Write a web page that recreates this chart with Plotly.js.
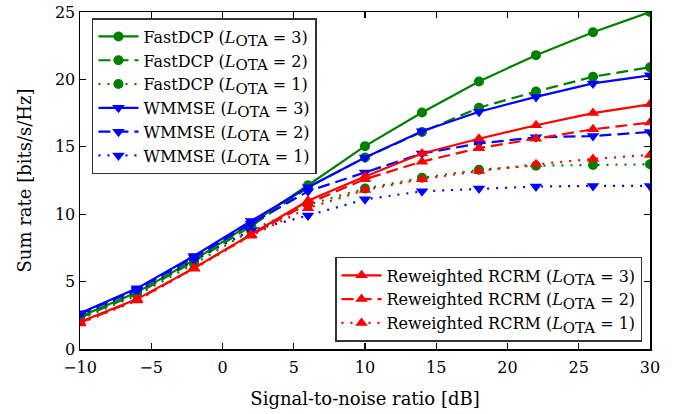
<!DOCTYPE html>
<html>
<head>
<meta charset="utf-8">
<script src="https://cdn.plot.ly/plotly-3.0.1.min.js"></script>
<style>html,body{margin:0;padding:0;background:#fff;}#chart{width:681px;height:414px;}</style>
</head>
<body>
<div id="chart"></div>
<script>
const snr = [-10, -6, -2, 2, 6, 10, 14, 18, 22, 26, 30];

const fastdcp3 = [2.4, 4.2, 6.6, 9.3, 12.15, 15.05, 17.55, 19.85, 21.8, 23.5, 25.0];
const fastdcp2 = [2.3, 4.1, 6.5, 9.1, 12.0, 14.2, 16.1, 17.9, 19.1, 20.2, 20.9];
const fastdcp1 = [2.2, 4.0, 6.3, 8.8, 10.7, 11.9, 12.7, 13.3, 13.6, 13.65, 13.7];
const wmmse3 = [2.65, 4.5, 6.9, 9.5, 12.0, 14.2, 16.15, 17.6, 18.7, 19.7, 20.3];
const wmmse2 = [2.6, 4.4, 6.8, 9.3, 11.7, 13.1, 14.5, 15.25, 15.7, 15.8, 16.1];
const wmmse1 = [2.5, 4.3, 6.6, 8.8, 9.9, 11.1, 11.7, 11.9, 12.05, 12.1, 12.1];
const rcrm3 = [2.0, 3.7, 6.0, 8.5, 11.0, 12.8, 14.5, 15.6, 16.6, 17.5, 18.15];
const rcrm2 = [1.95, 3.65, 6.0, 8.45, 10.8, 12.6, 13.9, 14.9, 15.6, 16.3, 16.8];
const rcrm1 = [1.9, 3.6, 5.95, 8.4, 10.45, 11.8, 12.6, 13.2, 13.7, 14.1, 14.4];

const SUB = '<i>L</i><sub><span style="font-size:15px">OTA</span></sub>\u00a0=\u00a0';
const names = {
  fastdcp3: 'FastDCP (' + SUB + '3)',
  fastdcp2: 'FastDCP (' + SUB + '2)',
  fastdcp1: 'FastDCP (' + SUB + '1)',
  wmmse3: 'WMMSE (' + SUB + '3)',
  wmmse2: 'WMMSE (' + SUB + '2)',
  wmmse1: 'WMMSE (' + SUB + '1)',
  rcrm3: 'Reweighted RCRM (' + SUB + '3)',
  rcrm2: 'Reweighted RCRM (' + SUB + '2)',
  rcrm1: 'Reweighted RCRM (' + SUB + '1)'
};

const GREEN = '#008000', BLUE = '#0000ff', RED = '#ff0000';

function tr(y, name, color, dash, symbol, size, legend) {
  return {
    x: snr, y: y, name: name, type: 'scatter', mode: 'lines+markers',
    line: {color: color, width: 2.2, dash: dash},
    marker: {color: color, symbol: symbol, size: size},
    legend: legend
  };
}

const data = [
  tr(fastdcp3, names.fastdcp3, GREEN, 'solid', 'circle', 10, 'legend'),
  tr(fastdcp2, names.fastdcp2, GREEN, '12px,6px', 'circle', 10, 'legend'),
  tr(fastdcp1, names.fastdcp1, GREEN, '2px,7px', 'circle', 10, 'legend'),
  tr(wmmse3, names.wmmse3, BLUE, 'solid', 'triangle-down', 11, 'legend'),
  tr(wmmse2, names.wmmse2, BLUE, '12px,6px', 'triangle-down', 11, 'legend'),
  tr(wmmse1, names.wmmse1, BLUE, '2px,7px', 'triangle-down', 11, 'legend'),
  tr(rcrm3, names.rcrm3, RED, 'solid', 'triangle-up', 11, 'legend2'),
  tr(rcrm2, names.rcrm2, RED, '12px,6px', 'triangle-up', 11, 'legend2'),
  tr(rcrm1, names.rcrm1, RED, '2px,7px', 'triangle-up', 11, 'legend2')
];

const FONT = 'DejaVu Serif, Liberation Serif, serif';

const layout = {
  width: 681, height: 414,
  margin: {l: 80, r: 31, t: 12, b: 65},
  paper_bgcolor: '#fff', plot_bgcolor: '#fff',
  font: {family: FONT, size: 16, color: '#000'},
  showlegend: true,
  xaxis: {
    range: [-10, 30], tickvals: [-10, -5, 0, 5, 10, 15, 20, 25, 30],
    ticktext: ['\u221210', '\u22125', '0', '5', '10', '15', '20', '25', '30'],
    ticks: 'inside', ticklen: 6, tickwidth: 1.2, tickcolor: '#000',
    showline: true, linecolor: '#000', linewidth: 1.5, mirror: 'allticks',
    showgrid: false, zeroline: false, ticklabelstandoff: 3,
    tickfont: {family: FONT, size: 16},
    title: {text: 'Signal-to-noise ratio [dB]', font: {family: FONT, size: 18}, standoff: 16}
  },
  yaxis: {
    range: [0, 25], tickvals: [0, 5, 10, 15, 20, 25],
    ticks: 'inside', ticklen: 6, tickwidth: 1.2, tickcolor: '#000',
    showline: true, linecolor: '#000', linewidth: 1.5, mirror: 'allticks',
    showgrid: false, zeroline: false,
    tickfont: {family: FONT, size: 16},
    title: {text: 'Sum rate [bits/s/Hz]', font: {family: FONT, size: 18}, standoff: 18}
  },
  legend: {
    x: 0.021, y: 0.982, xanchor: 'left', yanchor: 'top',
    bgcolor: '#fff', bordercolor: '#333', borderwidth: 1.5,
    font: {family: FONT, size: 16}, tracegroupgap: 0, itemwidth: 40
  },
  legend2: {
    x: 0.986, y: 0.021, xanchor: 'right', yanchor: 'bottom',
    bgcolor: '#fff', bordercolor: '#333', borderwidth: 1.5,
    font: {family: FONT, size: 16}, tracegroupgap: 0, itemwidth: 40
  }
};

Plotly.newPlot('chart', data, layout, {displayModeBar: false, staticPlot: true});
</script>
</body>
</html>
